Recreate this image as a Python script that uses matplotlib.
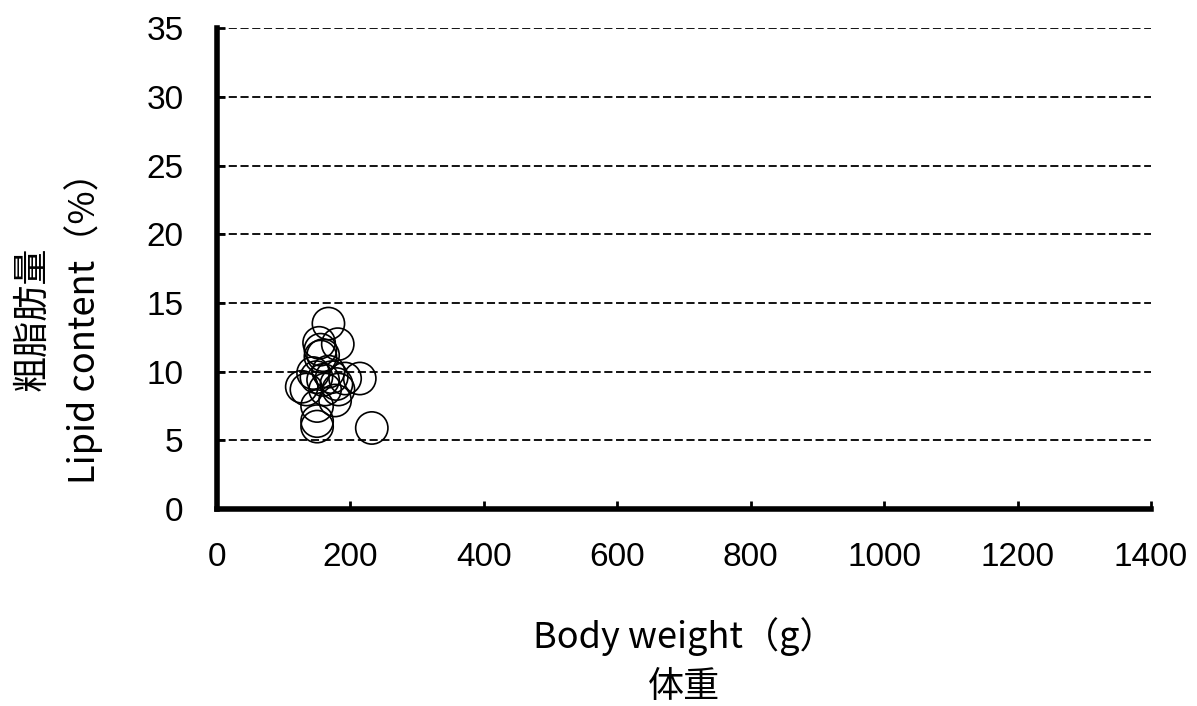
"""Scatter of lipid content against body weight"""

import matplotlib
matplotlib.use('Agg')
import matplotlib.pyplot as plt

plt.rcParams['font.family'] = ['Noto Sans CJK JP', 'DejaVu Sans']

# body weight (g) and lipid content (%)
body_weight = [167, 181, 153, 155, 155, 159, 127, 214, 192, 149, 159, 172,
               179, 134, 177, 150, 150, 150, 232, 144, 167, 162, 182]
lipid = [13.5, 12.0, 12.1, 11.6, 11.1, 11.2, 8.9, 9.5, 9.5, 9.6, 9.4, 9.6,
         9.1, 8.7, 7.9, 7.5, 6.4, 6.0, 5.9, 9.9, 10.0, 8.7, 8.7]

x_ticks = [0, 200, 400, 600, 800, 1000, 1200, 1400]
y_ticks = [0, 5, 10, 15, 20, 25, 30, 35]


def plot_lipid_vs_weight():
    fig = plt.figure(figsize=(11.97, 7.06), dpi=100)
    ax = fig.add_axes([0.1813, 0.279, 0.7803, 0.681])

    for y in y_ticks[1:]:
        ax.axhline(y, color='black', lw=1.3, ls=(0, (4.5, 2)), zorder=1)

    ax.scatter(body_weight, lipid, s=540, facecolors='none',
               edgecolors='black', linewidths=1.2, zorder=3, clip_on=False)

    ax.set_xlim(0, 1400)
    ax.set_ylim(0, 35)
    ax.set_xticks(x_ticks)
    ax.set_yticks(y_ticks)

    for side in ['top', 'right']:
        ax.spines[side].set_visible(False)
    for side in ['left', 'bottom']:
        ax.spines[side].set_linewidth(4)

    ax.tick_params(direction='in', length=6, width=2, pad=24,
                   labelsize=24)
    for lab in ax.get_xticklabels() + ax.get_yticklabels():
        lab.set_family(['Liberation Sans', 'DejaVu Sans'])

    ax.set_xlabel('Body weight（g）\n体重', fontsize=26, linespacing=1.45)
    ax.xaxis.set_label_coords(0.5, -0.225)
    ax.set_ylabel('粗脂肪量\nLipid content（%）', fontsize=26,
                  linespacing=1.45)
    ax.yaxis.set_label_coords(-0.122, 0.395)

    fig.savefig('out.png', dpi=100)


if __name__ == "__main__":
    plot_lipid_vs_weight()
